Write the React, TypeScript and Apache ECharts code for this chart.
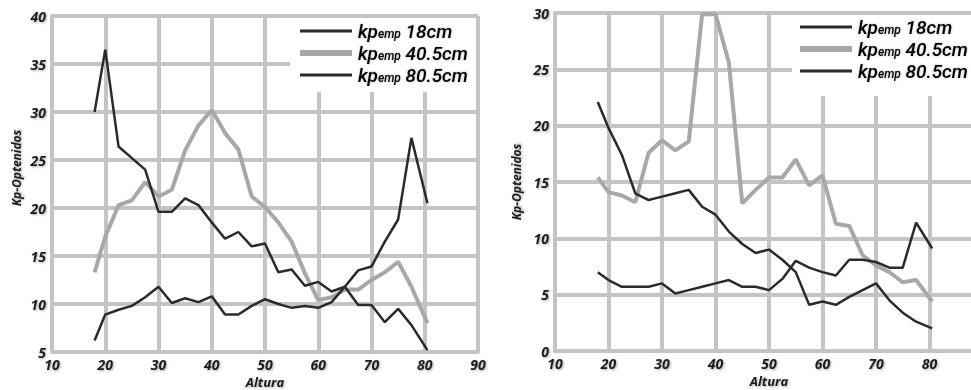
import React, { useEffect, useRef } from "react";
import * as echarts from "echarts";

// Altura (x) positions shared by every curve
const alturaX = [18, 20, 22.5, 25, 27.5, 30, 32.5, 35, 37.5, 40, 42.5, 45, 47.5, 50, 52.5, 55, 57.5, 60, 62.5, 65, 67.5, 70, 72.5, 75, 77.5, 80.5];

// Left chart
const leftKp18 = [30, 36.5, 26.4, 25.2, 24, 19.6, 19.6, 21, 20.3, 18.5, 16.8, 17.5, 16, 16.3, 13.3, 13.6, 11.9, 12.3, 11.3, 11.8, 9.9, 9.9, 8.1, 9.5, 7.8, 5.2];
const leftKp405 = [13.3, 17, 20.3, 20.8, 22.7, 21.2, 21.9, 26, 28.6, 30.2, 27.8, 26.1, 21.2, 20.1, 18.5, 16.5, 13.2, 10.4, 10.7, 11.5, 11.5, 12.5, 13.3, 14.4, 11.8, 8];
const leftKp805 = [6.2, 8.9, 9.4, 9.8, 10.7, 11.8, 10.1, 10.6, 10.2, 10.8, 8.9, 8.9, 9.8, 10.5, 10, 9.6, 9.8, 9.6, 10.2, 11.8, 13.5, 13.9, 16.5, 18.8, 27.3, 20.5];

// Right chart
const rightKp18 = [22.1, 19.8, 17.4, 14.0, 13.4, 13.7, 14.0, 14.3, 12.8, 12.1, 10.6, 9.5, 8.7, 9.0, 8.1, 7.0, 4.1, 4.4, 4.1, 4.8, 5.4, 6.0, 4.5, 3.4, 2.6, 2.0];
const rightKp405 = [15.4, 14.1, 13.8, 13.2, 17.6, 18.7, 17.8, 18.6, 29.9, 29.9, 25.6, 13.1, 14.3, 15.4, 15.4, 17.0, 14.7, 15.6, 11.3, 11.1, 8.5, 7.6, 7.0, 6.1, 6.3, 4.4];
const rightKp805 = [7.0, 6.3, 5.7, 5.7, 5.7, 6.0, 5.1, 5.4, 5.7, 6.0, 6.3, 5.7, 5.7, 5.4, 6.4, 8.0, 7.4, 7.0, 6.7, 8.1, 8.1, 7.9, 7.4, 7.4, 11.4, 9.1];

const legendLabels = ["18cm", "40.5cm", "80.5cm"];
const xAxisName = "Altura";
const yAxisName = "Kp-Optenidos";

const GRID = "#c4c4c4";
const DARK = "#2b2b2b";
const LIGHT = "#a8a8a8";
const FONT = "'Open Sans', 'DejaVu Sans', sans-serif";
const LEGEND_FONT = "Roboto, 'Liberation Sans', sans-serif";

const labelStyle = {
  fontFamily: FONT,
  fontStyle: "italic" as const,
  fontWeight: "bold" as const,
  fontSize: 14,
  color: "#1e1e1e",
  textShadowColor: "rgba(0,0,0,0.35)",
  textShadowBlur: 2,
  textShadowOffsetX: 1,
  textShadowOffsetY: 1,
};

function xAxis(gridIndex: number, showMax: boolean) {
  return {
    type: "value",
    gridIndex,
    min: 10,
    max: 90,
    interval: 10,
    name: xAxisName,
    nameLocation: "middle",
    nameGap: 22,
    nameTextStyle: { ...labelStyle, fontSize: 13 },
    axisLine: { show: true, lineStyle: { color: GRID, width: 4 } },
    axisTick: { show: false },
    axisLabel: { ...labelStyle, margin: 5, showMaxLabel: showMax },
    splitLine: { show: true, lineStyle: { color: GRID, width: 4 } },
  };
}

function yAxis(gridIndex: number, min: number, max: number, gap: number, pad: number[]) {
  return {
    type: "value",
    gridIndex,
    min,
    max,
    interval: 5,
    name: yAxisName,
    nameLocation: "middle",
    nameGap: gap,
    nameTextStyle: { ...labelStyle, fontSize: 12, padding: pad },
    axisLine: { show: true, lineStyle: { color: GRID, width: 4 } },
    axisTick: { show: false },
    axisLabel: { ...labelStyle, margin: 6 },
    splitLine: { show: true, lineStyle: { color: GRID, width: 4 } },
  };
}

function line(name: string, vals: number[], idx: number, color: string, width: number, z: number) {
  return {
    type: "line",
    name,
    xAxisIndex: idx,
    yAxisIndex: idx,
    data: alturaX.map((x, i) => [x, vals[i]]),
    symbol: "none",
    showSymbol: false,
    lineStyle: { color, width },
    itemStyle: { color },
    z,
  };
}

const rich = {
  k: { fontFamily: LEGEND_FONT, fontStyle: "italic", fontWeight: 500, fontSize: 19, lineHeight: 18, color: "#222" },
  s: { fontFamily: LEGEND_FONT, fontStyle: "italic", fontWeight: 500, fontSize: 12, lineHeight: 18, color: "#222", verticalAlign: "bottom" },
  n: { fontFamily: LEGEND_FONT, fontStyle: "italic", fontWeight: 500, fontSize: 19, lineHeight: 18, color: "#222" },
};

function legend(bx: number, by: number, bw: number, bh: number, lx: number, ys: number[]) {
  const items: any[] = [
    { type: "rect", shape: { x: bx, y: by, width: bw, height: bh }, style: { fill: "#ffffff" }, z: 20 },
  ];
  const styles = [
    { stroke: DARK, lineWidth: 3 },
    { stroke: LIGHT, lineWidth: 6 },
    { stroke: DARK, lineWidth: 3 },
  ];
  ys.forEach((y, i) => {
    items.push({ type: "line", shape: { x1: lx, y1: y, x2: lx + 52, y2: y }, style: styles[i], z: 21 });
    items.push({
      type: "text",
      x: lx + 58,
      y,
      style: {
        text: `{k|kp}{s|emp}{n| ${legendLabels[i]}}`,
        rich,
        verticalAlign: "middle",
        textShadowColor: "rgba(0,0,0,0.3)",
        textShadowBlur: 2,
      },
      z: 21,
    });
  });
  return items;
}

export default function App() {
  const ref = useRef<HTMLDivElement>(null);
  useEffect(() => {
    if (!ref.current) return;
    const chart = echarts.init(ref.current, undefined, { renderer: "svg" });
    chart.setOption({
      animation: false,
      backgroundColor: "#ffffff",
      grid: [
        { left: 52, top: 16, width: 426, height: 336, outerBoundsMode: "none", containLabel: false },
        { left: 555, top: 13, width: 428, height: 338, outerBoundsMode: "none", containLabel: false },
      ],
      xAxis: [xAxis(0, true), xAxis(1, false)],
      yAxis: [yAxis(0, 5, 40, 30, [0, 0, 0, 32]), yAxis(1, 0, 30, 33, [0, 0, 0, 0])],
      series: [
        line("kp emp 40.5cm", leftKp405, 0, LIGHT, 4, 2),
        line("kp emp 18cm", leftKp18, 0, DARK, 2.5, 3),
        line("kp emp 80.5cm", leftKp805, 0, DARK, 2.5, 3),
        line("kp emp 40.5cm ", rightKp405, 1, LIGHT, 4, 2),
        line("kp emp 18cm ", rightKp18, 1, DARK, 2.5, 3),
        line("kp emp 80.5cm ", rightKp805, 1, DARK, 2.5, 3),
      ],
      graphic: [
        ...legend(290, 18, 186, 74, 300, [31, 53, 75]),
        ...legend(792, 15, 179, 81, 800, [27, 49, 71]),
      ],
    });
    return () => chart.dispose();
  }, []);
  return <div ref={ref} style={{ position: "absolute", left: 0, top: 0, width: 971, height: 390 }} />;
}
